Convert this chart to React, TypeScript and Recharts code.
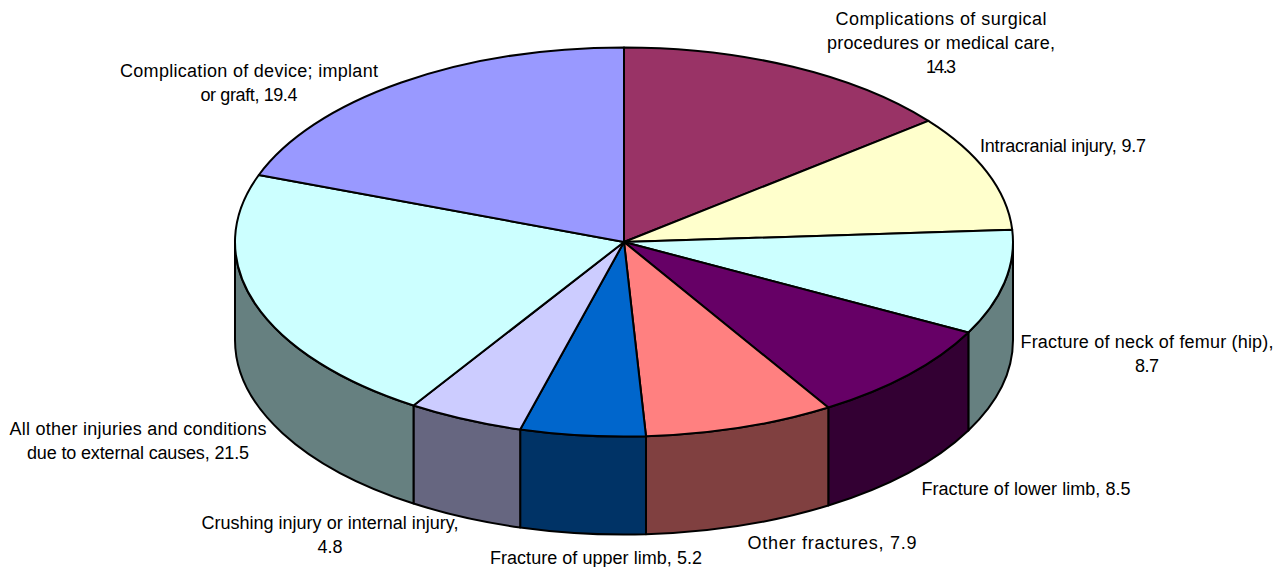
import { PieChart, Pie } from "recharts";

const categories = [
  "Complications of surgical procedures or medical care",
  "Intracranial injury",
  "Fracture of neck of femur (hip)",
  "Fracture of lower limb",
  "Other fractures",
  "Fracture of upper limb",
  "Crushing injury or internal injury",
  "All other injuries and conditions due to external causes",
  "Complication of device; implant or graft",
];
const values = [14.3, 9.7, 8.7, 8.5, 7.9, 5.2, 4.8, 21.5, 19.4];

const TOP_COLORS = ["#993366", "#FFFFCC", "#CCFFFF", "#660066", "#FF8080", "#0066CC", "#CCCCFF", "#CCFFFF", "#9999FF"];
const WALL_COLORS = ["#4D1A33", "#808066", "#668080", "#330033", "#804040", "#003366", "#666680", "#668080", "#4D4D80"];

// Label text broken the way the chart wraps it
const LABEL_LINES = [
  ["Complications of surgical", "procedures or medical care,", "14.3"],
  ["Intracranial injury, 9.7"],
  ["Fracture of neck of femur (hip),", "8.7"],
  ["Fracture of lower limb, 8.5"],
  ["Other fractures, 7.9"],
  ["Fracture of upper limb, 5.2"],
  ["Crushing injury or internal injury,", "4.8"],
  ["All other injuries and conditions", "due to external causes, 21.5"],
  ["Complication of device; implant", "or graft, 19.4"],
];
// measured width of each line above, the original has looser letter spacing
const LINE_WIDTHS = [
  [211, 228, 30],
  [166],
  [253, 24],
  [209],
  [169],
  [212],
  [257, 25],
  [257, 222],
  [258, 97],
];
// center x / first baseline y of every label
const LABEL_POS = [
  [941, 25], [1063, 152], [1147, 348], [1026, 495], [832, 549],
  [596, 564], [330, 529], [138, 435], [249, 77],
];

const CX = 624;
const CY = 242;
const RX = 389;
const TILT = 0.5; // ellipse height / width
const RY = RX * TILT;
const DEPTH = 98;

const data = categories.map((name, i) => ({ name, value: values[i] }));

const pt = (a: number, dy = 0) => {
  const r = (a * Math.PI) / 180;
  return `${CX + RX * Math.cos(r)} ${CY - RY * Math.sin(r) + dy}`;
};

function TopSlice(props: any) {
  const { startAngle, endAngle, index } = props;
  const large = startAngle - endAngle > 180 ? 1 : 0;
  const d = `M ${CX} ${CY} L ${pt(startAngle)} A ${RX} ${RY} 0 ${large} 1 ${pt(endAngle)} Z`;
  return <path d={d} fill={TOP_COLORS[index]} stroke="#000" strokeWidth={2} strokeLinejoin="round" />;
}

// side wall: only the part of a slice on the front half of the ellipse shows
function WallSlice(props: any) {
  const { startAngle, endAngle, index } = props;
  const hi = Math.min(startAngle, 0);
  const lo = Math.max(endAngle, -180);
  if (hi <= lo) return <g />;
  const d =
    `M ${pt(hi)} A ${RX} ${RY} 0 0 1 ${pt(lo)} ` +
    `L ${pt(lo, DEPTH)} A ${RX} ${RY} 0 0 0 ${pt(hi, DEPTH)} Z`;
  return <path d={d} fill={WALL_COLORS[index]} stroke="#000" strokeWidth={2} strokeLinejoin="round" />;
}

function SliceLabel(props: any) {
  const { index } = props;
  const [x, y] = LABEL_POS[index];
  return (
    <g>
      {LABEL_LINES[index].map((line, i) => (
        <text
          key={i}
          x={x}
          y={y + i * 24}
          textAnchor="middle"
          textLength={LINE_WIDTHS[index][i]}
          fontFamily="'Liberation Sans', Arial, sans-serif"
          fontSize={18}
          fill="#000"
        >
          {line}
        </text>
      ))}
    </g>
  );
}

export default function App() {
  return (
    <div style={{ position: "absolute", left: 0, top: 0, width: 1288, height: 567, background: "#fff" }}>
      <PieChart width={1288} height={567} margin={{ top: 0, right: 0, bottom: 0, left: 0 }}>
        <Pie
          data={data}
          dataKey="value"
          cx={CX}
          cy={CY}
          innerRadius={0}
          outerRadius={RX}
          startAngle={90}
          endAngle={-270}
          shape={WallSlice}
          isAnimationActive={false}
        />
        <Pie
          data={data}
          dataKey="value"
          cx={CX}
          cy={CY}
          innerRadius={0}
          outerRadius={RX}
          startAngle={90}
          endAngle={-270}
          shape={TopSlice}
          label={SliceLabel}
          labelLine={false}
          isAnimationActive={false}
        />
      </PieChart>
    </div>
  );
}
